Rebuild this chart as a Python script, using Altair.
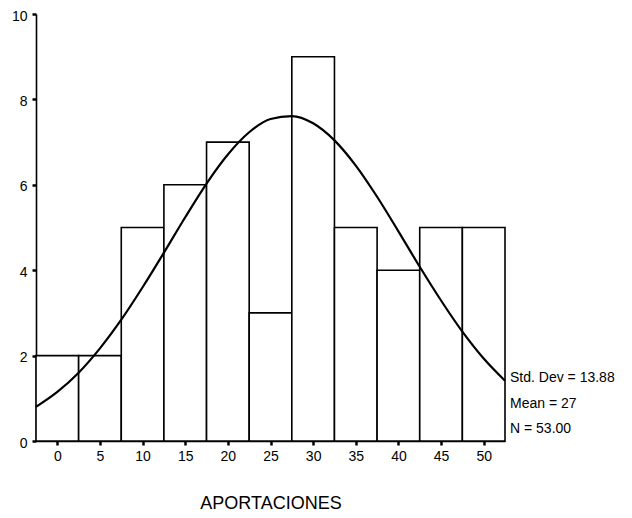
import altair as alt
import pandas as pd

# Histogram bins (centres) and counts
bin_centers = [0, 5, 10, 15, 20, 25, 30, 35, 40, 45, 50]
counts = [2, 2, 5, 6, 7, 3, 9, 5, 4, 5, 5]
bin_width = 5

# Fitted normal curve
curve_x = [-2.5, 0, 2.5, 5, 7.5, 10, 12.5, 15, 17.5, 20, 22.5, 25, 27.5,
           30, 32.5, 35, 37.5, 40, 42.5, 45, 47.5, 50, 52.5]
curve_y = [0.80, 1.15, 1.60, 2.17, 2.84, 3.60, 4.41, 5.24, 6.03, 6.71, 7.23,
           7.54, 7.61, 7.44, 7.04, 6.45, 5.72, 4.91, 4.08, 3.29, 2.56, 1.93, 1.41]

stats_lines = ["Std. Dev = 13.88", "Mean = 27", "N = 53.00"]
x_ticks = [0, 5, 10, 15, 20, 25, 30, 35, 40, 45, 50]
y_ticks = [0, 2, 4, 6, 8, 10]

FONT = "Liberation Sans"

bars_df = pd.DataFrame({
    "center": bin_centers,
    "count": counts,
})
bars_df["start"] = bars_df["center"] - bin_width / 2
bars_df["end"] = bars_df["center"] + bin_width / 2

curve_df = pd.DataFrame({"x": curve_x, "y": curve_y})

xscale = alt.Scale(domain=[-2.5, 52.5], nice=False, zero=False)
yscale = alt.Scale(domain=[0, 10], nice=False)

bars = alt.Chart(bars_df).mark_bar(
    fill="white", stroke="black", strokeWidth=1.6
).encode(
    x=alt.X("start:Q", scale=xscale,
            axis=alt.Axis(values=x_ticks, title="APORTACIONES", grid=False,
                          labelFont=FONT, labelFontSize=14, labelColor="black",
                          titleFont=FONT, titleFontSize=18, titleFontWeight="normal",
                          titleColor="black", titleY=67, titleBaseline="alphabetic",
                          tickSize=4, tickWidth=2.5, tickColor="black",
                          labelPadding=4, domainColor="black", domainWidth=1.6)),
    x2="end:Q",
    y=alt.Y("count:Q", scale=yscale,
            axis=alt.Axis(values=y_ticks, title=None, grid=False,
                          labelFont=FONT, labelFontSize=14, labelColor="black",
                          labelOffset=2,
                          tickSize=4, tickWidth=2.5, tickColor="black",
                          labelPadding=5, domainColor="black", domainWidth=1.6)),
    y2=alt.datum(0),
)

curve = alt.Chart(curve_df).mark_line(
    color="black", strokeWidth=2.2, interpolate="monotone"
).encode(
    x=alt.X("x:Q", scale=xscale),
    y=alt.Y("y:Q", scale=yscale),
)

stat_y = [368, 393.5, 419]
stat_layers = [
    alt.Chart(pd.DataFrame({"line": [txt]})).mark_text(
        align="left", baseline="alphabetic", font=FONT, fontSize=14, color="black"
    ).encode(x=alt.value(474), y=alt.value(yy), text="line:N")
    for txt, yy in zip(stats_lines, stat_y)
]

chart = alt.layer(bars, curve, *stat_layers).properties(
    width=469,
    height=427,
    padding={"left": 28, "top": 6, "right": 119, "bottom": 77},
    autosize=alt.AutoSizeParams(type="none"),
    view=alt.ViewBackground(stroke="white", strokeWidth=0, strokeOpacity=0),
).configure_view(stroke="transparent", strokeWidth=0, strokeOpacity=0).configure(
    background="white"
)

chart.save("out.html", embed_options={"renderer": "svg", "actions": False})
